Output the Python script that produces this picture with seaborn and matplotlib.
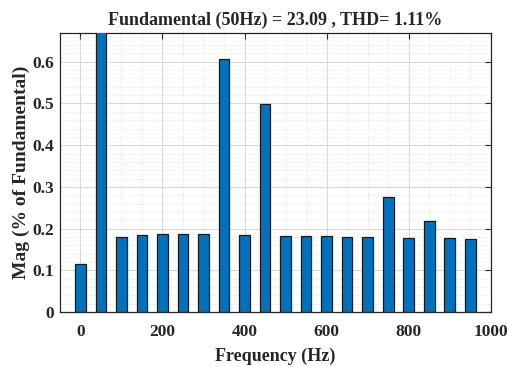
import numpy as np
import pandas as pd
import matplotlib
matplotlib.use("Agg")
import matplotlib.pyplot as plt
import seaborn as sns
from matplotlib.ticker import MultipleLocator

freqs = [0, 50, 100, 150, 200, 250, 300, 350, 400, 450, 500, 550, 600, 650, 700, 750, 800, 850, 900, 950]
mags = [0.116, 100.0, 0.179, 0.185, 0.186, 0.186, 0.186, 0.607, 0.184, 0.499,
        0.1815, 0.1812, 0.181, 0.180, 0.179, 0.275, 0.177, 0.218, 0.1765, 0.176]
title = "Fundamental (50Hz) = 23.09 , THD= 1.11%"
xlabel = "Frequency (Hz)"
ylabel = "Mag (% of Fundamental)"

sns.set_style("white")
plt.rcParams['font.family'] = ['Liberation Serif', 'DejaVu Serif']
plt.rcParams['font.weight'] = 'bold'

df = pd.DataFrame({"f": freqs, "m": mags})

fig = plt.figure(figsize=(5.07, 3.67), dpi=100)
ax = fig.add_axes([0.118, 0.150, 0.850, 0.760])

sns.barplot(data=df, x="f", y="m", native_scale=True, width=0.52,
            color="#0072BD", saturation=1, edgecolor="#1a1a1a", linewidth=0.9, ax=ax, zorder=3)

ax.set_xlim(-50, 1000)
ax.set_ylim(0, 0.669)
ax.xaxis.set_major_locator(MultipleLocator(200))
ax.xaxis.set_minor_locator(MultipleLocator(50))
ax.yaxis.set_major_locator(MultipleLocator(0.1))
ax.yaxis.set_minor_locator(MultipleLocator(0.02))
ax.set_yticks([0, 0.1, 0.2, 0.3, 0.4, 0.5, 0.6])
ax.set_yticklabels(["0", "0.1", "0.2", "0.3", "0.4", "0.5", "0.6"])
ax.set_xticks([0, 200, 400, 600, 800, 1000])
ax.set_xticklabels(["0", "200", "400", "600", "800", "1000"])

ax.grid(True, which="major", color="#d9d9d9", linewidth=0.8, linestyle="-", zorder=0)
ax.grid(True, which="minor", color="#d9d9d9", linewidth=0.6, linestyle=(0, (1, 2)), zorder=0)
ax.set_axisbelow(True)

ax.tick_params(axis="both", which="major", direction="in", length=4, width=0.8,
               top=True, right=True, labelsize=12.5, colors="#262626")
ax.tick_params(axis="x", which="major", pad=9)
ax.tick_params(axis="y", which="major", pad=4)
ax.tick_params(axis="both", which="minor", length=0)
for lab in ax.get_xticklabels() + ax.get_yticklabels():
    lab.set_fontweight("bold")
for s in ax.spines.values():
    s.set_color("#262626")
    s.set_linewidth(0.9)

ax.set_title(title, fontsize=13, fontweight="bold", pad=6)
ax.set_xlabel(xlabel, fontsize=13, fontweight="bold", color="#262626", labelpad=5)
ax.set_ylabel(ylabel, fontsize=14, fontweight="bold", color="#262626", labelpad=2)

fig.savefig("out.png", dpi=100)
